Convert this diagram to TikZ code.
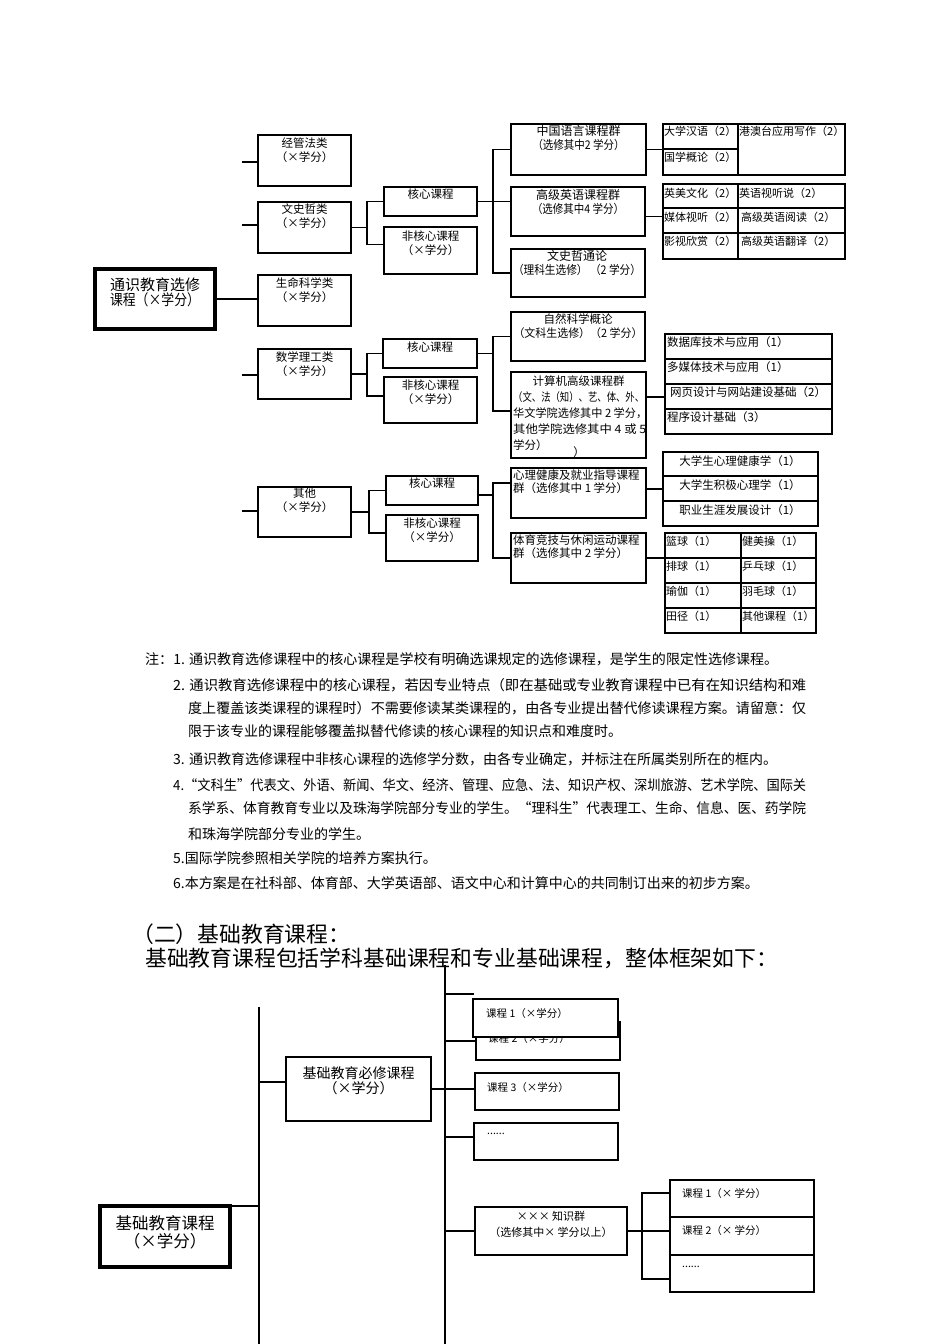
\documentclass[tikz,border=0pt]{standalone}
\usepackage{fontspec}
\usepackage{graphicx}
\setmainfont{Noto Sans CJK SC}
\newcommand\fitw[2]{\resizebox{#1}{\height}{#2}}
\newcommand\mkbox[6]{\node[#1,minimum width={#5-#3},minimum height={#6-#4}] (#2) at ({(#3+#5)/2},{(#4+#6)/2}) {};}
\begin{document}
\begin{tikzpicture}[x=1pt,y=-1pt,
  conn/.style={line width=1.3pt},
  box/.style={draw,fill=white,inner sep=0pt,outer sep=0pt},
  bmain/.style={box,line width=4pt},
  bcat/.style={box,line width=2.6pt},
  bmid/.style={box,line width=2pt},
  bsub/.style={box,line width=1.3pt},
  lbl/.style={inner sep=0pt,align=center,font=\fontsize{11.5}{14}\selectfont},
  lbll/.style={inner sep=0pt,anchor=west,align=left,font=\fontsize{11.5}{14}\selectfont},
  cell/.style={inner sep=0pt,anchor=west,font=\fontsize{11}{13}\selectfont},
  notetxt/.style={inner sep=0pt,anchor=west,font=\fontsize{14}{16}\selectfont},
  ctxt/.style={inner sep=0pt,anchor=west,font=\fontsize{10.5}{12}\selectfont}]
\fill[white] (0,0) rectangle (950,1344);
\useasboundingbox (0,0) rectangle (950,1344);

% ---------- top diagram ----------
\mkbox{bmain}{M}{95}{269}{215}{329}
\node[lbl,font=\fontsize{15}{15.5}\selectfont] (Mt) at (155,292.5) {通识教育选修\\\fitw{90pt}{课程（×学分）}};

\mkbox{bcat}{C1}{258}{135}{351}{186}
\mkbox{bcat}{C2}{258}{202}{351}{253}
\mkbox{bcat}{C3}{258}{275}{351}{326}
\mkbox{bcat}{C4}{258}{349}{351}{399}
\mkbox{bcat}{C5}{258}{487}{351}{537}
\node[lbl] (C1t) at (304.5,150.5) {经管法类\\（×学分）};
\node[lbl] (C2t) at (304.5,216.5) {文史哲类\\（×学分）};
\node[lbl] (C3t) at (304.5,290.5) {生命科学类\\（×学分）};
\node[lbl] (C4t) at (304.5,364.5) {数学理工类\\（×学分）};
\node[lbl] (C5t) at (304.5,500.5) {其他\\（×学分）};

\coordinate (s1) at (242,162);
\coordinate (s2) at (242,225);
\coordinate (s4) at (242,375);
\coordinate (s5) at (242,511);
\draw[conn] (s1) -- (s1 -| C1.west);
\draw[conn] (s2) -- (s2 -| C2.west);
\draw[conn] (s4) -- (s4 -| C4.west);
\draw[conn] (s5) -- (s5 -| C5.west);
\draw[conn] (M.east) -- (M.east -| C3.west);

% level 2
\mkbox{bmid}{K1}{384}{187}{477}{216}
\mkbox{bmid}{F1}{384}{227}{477}{274}
\mkbox{bmid}{K2}{383}{339}{477}{368}
\mkbox{bmid}{F2}{384}{377}{477}{423}
\mkbox{bmid}{K3}{386}{476}{478}{505}
\mkbox{bmid}{F3}{386}{515}{478}{561}
\node[lbl] (K1t) at (430.5,194) {核心课程};
\node[lbl] (F1t) at (430.5,243) {非核心课程\\（×学分）};
\node[lbl] (K2t) at (430,347) {核心课程};
\node[lbl] (F2t) at (430.5,392) {非核心课程\\（×学分）};
\node[lbl] (K3t) at (432,483) {核心课程};
\node[lbl] (F3t) at (432,530) {非核心课程\\（×学分）};

\draw[conn] (C2.east) -| ([xshift=-17pt]K1.west) -- (K1.west);
\draw[conn] ([xshift=-17pt]K1.west) |- ([yshift=6pt]F1.west);
\draw[conn] (C4.east) -| ([xshift=-16pt]K2.west) -- (K2.west);
\draw[conn] ([xshift=-16pt]K2.west) |- ([yshift=4pt]F2.west);
\draw[conn] (C5.east) -| ([xshift=-17pt]K3.west) -- (K3.west);
\draw[conn] ([xshift=-17pt]K3.west) |- ([yshift=5pt]F3.west);

% level 3, 文史哲
\mkbox{bmid}{G1}{511}{124}{646}{175}
\mkbox{bmid}{G2}{511}{187}{645}{236}
\mkbox{bmid}{G3}{511}{249}{645}{297}
\node[lbl,font=\fontsize{12}{14}\selectfont] (G1t) at (578.5,138) {中国语言课程群\\\fitw{92pt}{（选修其中2 学分）}};
\node[lbl,font=\fontsize{12}{14}\selectfont] (G2t) at (578,202) {高级英语课程群\\\fitw{92pt}{（选修其中4 学分）}};
\node[lbl,font=\fontsize{12}{14}\selectfont] (G3t) at (577,263) {文史哲通论\\\fitw{128pt}{（理科生选修） （2 学分）}};
\draw[conn] (K1.east) -- (K1.east -| G2.west);
\draw[conn] (G1.west) -- ++(-18,0) |- (G3.west);

\mkbox{bsub}{TA1}{663}{124}{738}{149}
\mkbox{bsub}{TA2}{663}{149}{738}{175}
\mkbox{bsub}{TA3}{738}{124}{845}{175}
\node[cell] (TA1t) at (664,131) {大学汉语（2）};
\node[cell] (TA2t) at (664,157) {国学概论（2）};
\node[cell] (TA3t) at (739,131) {港澳台应用写作（2）};
\draw[conn] (G1.east) -- (G1.east -| TA2.west);

\mkbox{bsub}{EA1}{663}{184}{738}{208}
\mkbox{bsub}{EB1}{738}{184}{845}{208}
\mkbox{bsub}{EA2}{663}{208}{738}{233}
\mkbox{bsub}{EB2}{738}{208}{845}{233}
\mkbox{bsub}{EA3}{663}{233}{738}{259}
\mkbox{bsub}{EB3}{738}{233}{845}{259}
\node[cell] (EA1t) at (664,193) {英美文化（2）};
\node[cell] (EB1t) at (739,193) {英语视听说（2）};
\node[cell] (EA2t) at (664,217) {媒体视听（2）};
\node[cell] (EB2t) at (741,217) {高级英语阅读（2）};
\node[cell] (EA3t) at (664,241) {影视欣赏（2）};
\node[cell] (EB3t) at (741,241) {高级英语翻译（2）};
\coordinate (g2o) at ([yshift=-5pt]G2.east);
\draw[conn] (g2o) -- (g2o -| EA2.west);

% level 3, 数学理工
\mkbox{bmid}{N1}{511}{312}{645}{361}
\mkbox{bmid}{N2}{511}{372}{646}{458}
\node[lbl] (N1t) at (578,326) {自然科学概论\\\fitw{129pt}{（文科生选修）（2 学分）}};
\node[lbl] (N2h) at (578.5,381) {计算机高级课程群};
\node[lbll,font=\fontsize{11.5}{16}\selectfont] (N2t) at (513,421) {\fitw{131pt}{（文、法（知）、艺、体、外、}\\\fitw{134pt}{华文学院选修其中 2 学分，}\\\fitw{133pt}{其他学院选修其中 4 或 5}\\学分）};
\node[lbl] (N2x) at (579,452) {）};
\coordinate (v2) at ([xshift=-18pt]N1.west);
\draw[conn] (K2.east) -- (v2 |- K2.east);
\draw[conn] (N1.west) -- (v2) |- ([yshift=4pt]N2.west);

\mkbox{bsub}{P1}{665}{334}{832}{359}
\mkbox{bsub}{P2}{665}{359}{832}{384}
\mkbox{bsub}{P3}{665}{384}{832}{409}
\mkbox{bsub}{P4}{665}{409}{832}{434}
\node[lbll] (P1t) at (667,342) {数据库技术与应用（1）};
\node[lbll] (P2t) at (667,367) {多媒体技术与应用（1）};
\node[lbll] (P3t) at (670,392) {网页设计与网站建设基础（2）};
\node[lbll] (P4t) at (667,417) {程序设计基础（3）};
\coordinate (n2o) at ([yshift=18pt]N2.east);
\draw[conn] (n2o) -- (n2o -| P3.west);

% level 3, 其他
\mkbox{bmid}{H1}{511}{468}{646}{518}
\mkbox{bmid}{H2}{511}{533}{646}{583}
\node[lbll,font=\fontsize{11.5}{13}\selectfont] (H1t) at (513,481.5) {心理健康及就业指导课程\\群（选修其中 1 学分）};
\node[lbll,font=\fontsize{11.5}{13}\selectfont] (H2t) at (513,546.5) {体育竞技与休闲运动课程\\群（选修其中 2 学分）};
\coordinate (k3o) at ([yshift=-4.5pt]K3.east);
\coordinate (v3) at ([xshift=-18pt]H1.west);
\draw[conn] (k3o) -- (k3o -| v3);
\draw[conn] ([yshift=10pt]H1.west) -| (v3) |- (H2.west);

\mkbox{bsub}{Q1}{663}{452}{818}{476}
\mkbox{bsub}{Q2}{663}{476}{818}{501}
\mkbox{bsub}{Q3}{663}{501}{818}{526}
\node[lbl] (Q1t) at (740,461) {大学生心理健康学（1）};
\node[lbl] (Q2t) at (740,485) {大学生积极心理学（1）};
\node[lbl] (Q3t) at (740,510) {职业生涯发展设计（1）};
\coordinate (h1o) at ([yshift=4pt]H1.east);
\draw[conn] (h1o) -- (h1o -| Q2.west);

\mkbox{bsub}{SA1}{665}{533}{741}{558}
\mkbox{bsub}{SB1}{741}{533}{816}{558}
\mkbox{bsub}{SA2}{665}{558}{741}{583}
\mkbox{bsub}{SB2}{741}{558}{816}{583}
\mkbox{bsub}{SA3}{665}{583}{741}{608}
\mkbox{bsub}{SB3}{741}{583}{816}{608}
\mkbox{bsub}{SA4}{665}{608}{741}{633}
\mkbox{bsub}{SB4}{741}{608}{816}{633}
\node[cell] (SA1t) at (666,541) {篮球（1）};
\node[cell] (SB1t) at (742,541) {健美操（1）};
\node[cell] (SA2t) at (666,566) {排球（1）};
\node[cell] (SB2t) at (742,566) {乒乓球（1）};
\node[cell] (SA3t) at (666,591) {瑜伽（1）};
\node[cell] (SB3t) at (742,591) {羽毛球（1）};
\node[cell] (SA4t) at (666,616) {田径（1）};
\node[cell] (SB4t) at (742,616) {其他课程（1）};
\draw[conn] (H2.east) -- (H2.east -| SA1.west);

% ---------- notes ----------
\node[notetxt] (n1) at (145,659) {\fitw{633pt}{注：1. 通识教育选修课程中的核心课程是学校有明确选课规定的选修课程，是学生的限定性选修课程。}};
\node[notetxt] (n2) at (173,685) {\fitw{633pt}{2. 通识教育选修课程中的核心课程，若因专业特点（即在基础或专业教育课程中已有在知识结构和难}};
\node[notetxt] (n3) at (188,708) {\fitw{618pt}{度上覆盖该类课程的课程时）不需要修读某类课程的，由各专业提出替代修读课程方案。请留意：仅}};
\node[notetxt] (n4) at (188,731) {限于该专业的课程能够覆盖拟替代修读的核心课程的知识点和难度时。};
\node[notetxt] (n5) at (173,759) {3. 通识教育选修课程中非核心课程的选修学分数，由各专业确定，并标注在所属类别所在的框内。};
\node[notetxt] (n6) at (173,785) {\fitw{633pt}{4.“文科生”代表文、外语、新闻、华文、经济、管理、应急、法、知识产权、深圳旅游、艺术学院、国际关}};
\node[notetxt] (n7) at (188,808) {\fitw{618pt}{系学系、体育教育专业以及珠海学院部分专业的学生。“理科生”代表理工、生命、信息、医、药学院}};
\node[notetxt] (n8) at (188,834) {和珠海学院部分专业的学生。};
\node[notetxt] (n9) at (173,858) {5.国际学院参照相关学院的培养方案执行。};
\node[notetxt] (n10) at (173,883) {6.本方案是在社科部、体育部、大学英语部、语文中心和计算中心的共同制订出来的初步方案。};

% ---------- heading ----------
\node[notetxt,font=\fontsize{21.8}{24}\selectfont] (hd1) at (132,934) {（二）基础教育课程：};
\node[notetxt,font=\fontsize{21.8}{24}\selectfont] (hd2) at (145,958) {\fitw{633pt}{基础教育课程包括学科基础课程和专业基础课程，整体框架如下：}};

% ---------- bottom diagram ----------
\coordinate (vA1) at (445,965);
\coordinate (vA2) at (445,1344);
\coordinate (vB1) at (259,1007);
\coordinate (vB2) at (259,1344);
\draw[conn] (vA1) -- (vA2);
\draw[conn] (vB1) -- (vB2);

\mkbox{bmain}{B}{100}{1206}{230}{1267}
\node[lbl,font=\fontsize{16.5}{18}\selectfont] (Bt) at (165,1232) {基础教育课程\\（×学分）};
\draw[conn] (B.north east) -- (B.north east -| vB1);

\mkbox{bcat}{BX}{286}{1057}{431}{1121}
\node[lbl,font=\fontsize{14}{15}\selectfont] (BXt) at (358.5,1080.5) {基础教育必修课程\\（×学分）};
\coordinate (bxi) at ([yshift=7pt]BX.west);
\draw[conn] (bxi -| vB1) -- (bxi);

\mkbox{bmid}{c2}{476}{1022}{620}{1060}
\node[ctxt] (c2t) at (488,1038) {课程 2（×学分）};
\mkbox{bmid}{c1}{473}{999}{618}{1037}
\node[ctxt] (c1t) at (486,1013) {课程 1（×学分）};
\mkbox{bmid}{c3}{475}{1073}{619}{1110}
\node[ctxt] (c3t) at (487,1087) {课程 3（×学分）};
\mkbox{bmid}{c4}{474}{1123}{618}{1160}
\node[ctxt] (c4t) at (487,1134) {......};

\coordinate (t0) at (474,994);
\draw[conn] (t0 -| vA1) -- (t0);
\draw[conn] (c2.west -| vA1) -- (c2.west);
\draw[conn] (BX.east) -- (BX.east -| c3.west);
\coordinate (c4i) at ([yshift=4.5pt]c4.west);
\draw[conn] (c4i -| vA1) -- (c4i);

\mkbox{bmid}{KG}{475}{1207}{627}{1255}
\node[lbl,font=\fontsize{11}{16}\selectfont] (KGt) at (551,1224) {××× 知识群\\（选修其中× 学分以上）};
\draw[conn] (KG.west -| vA1) -- (KG.west);

\mkbox{bsub}{RB1}{670}{1180}{814}{1217}
\mkbox{bsub}{RB2}{670}{1217}{814}{1255}
\mkbox{bsub}{RB3}{670}{1255}{814}{1292}
\node[ctxt] (RB1t) at (682,1193) {课程 1（× 学分）};
\node[ctxt] (RB2t) at (682,1230) {课程 2（× 学分）};
\node[ctxt] (RB3t) at (682,1267) {......};
\coordinate (kv) at ([xshift=15pt]KG.east);
\coordinate (r1) at ([yshift=5.5pt]RB1.west);
\coordinate (r3) at ([yshift=-5.5pt]RB3.west);
\draw[conn] (KG.east) -- (kv) -- (kv -| RB2.west);
\draw[conn] (r1) -| (kv) |- (r3);
\end{tikzpicture}
\end{document}
